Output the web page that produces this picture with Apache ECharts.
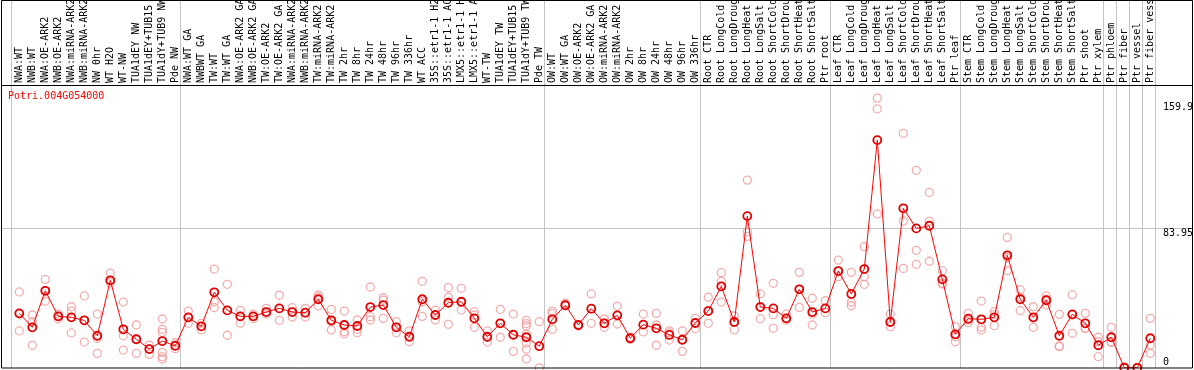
<!DOCTYPE html>
<html><head><meta charset="utf-8">
<script src="https://cdn.jsdelivr.net/npm/echarts@6/dist/echarts.min.js"></script>
<style>html,body{margin:0;padding:0;background:#fff}#c{width:1194px;height:370px}</style>
</head><body><div id="c"></div>
<script>
const geneName = 'Potri.004G054000';
const categories = [
 'NWA:WT','NWB:WT','NWA:OE-ARK2','NWB:OE-ARK2','NWA:miRNA-ARK2','NWB:miRNA-ARK2','NW 0hr','WT H2O','WT-NW','TUA1dEY NW','TUA1dEY+TUB15 NW','TUA1dY+TUB9 NW','Pde NW',
 'NWA:WT GA','NWBWT GA','TW:WT','TW:WT GA','NWA:OE-ARK2 GA','NWB:OE-ARK2 GA','TW:OE-ARK2','TW:OE-ARK2 GA','NWA:miRNA-ARK2 GA','NWB:miRNA-ARK2 GA','TW:miRNA-ARK2','TW:miRNA-ARK2 GA','TW 2hr','TW 8hr','TW 24hr','TW 48hr','TW 96hr','TW 336hr','WT ACC','35S::etr1-1 H2O','35S::etr1-1 ACC','LMX5::etr1-1 H2O','LMX5::etr1-1 ACC','WT-TW','TUA1dEY TW','TUA1dEY+TUB15 TW','TUA1dY+TUB9 TW','Pde TW',
 'OW:WT','OW:WT GA','OW:OE-ARK2','OW:OE-ARK2 GA','OW:miRNA-ARK2','OW:miRNA-ARK2 GA','OW 2hr','OW 8hr','OW 24hr','OW 48hr','OW 96hr','OW 336hr',
 'Root CTR','Root LongCold','Root LongDrought','Root LongHeat','Root LongSalt','Root ShortCold','Root ShortDrought','Root ShortHeat','Root ShortSalt','Ptr root',
 'Leaf CTR','Leaf LongCold','Leaf LongDrought','Leaf LongHeat','Leaf LongSalt','Leaf ShortCold','Leaf ShortDrought','Leaf ShortHeat','Leaf ShortSalt','Ptr leaf',
 'Stem CTR','Stem LongCold','Stem LongDrought','Stem LongHeat','Stem LongSalt','Stem ShortCold','Stem ShortDrought','Stem ShortHeat','Stem ShortSalt','Ptr shoot','Ptr xylem',
 'Ptr phloem','Ptr fiber','Ptr vessel','Ptr fiber vessel'
];
const meanValues = [
 32.8,24.4,46.4,31.0,30.4,28.6,19.3,52.7,23.2,17.2,11.3,16.1,13.3,
 30.4,25.0,45.5,34.6,31.0,31.0,33.6,35.8,33.6,33.2,41.3,28.6,25.8,25.2,36.6,37.8,24.4,18.7,41.3,31.8,39.2,39.8,29.8,18.7,26.8,19.9,18.4,13.0,
 29.2,37.7,25.8,35.6,26.8,31.6,17.8,26.0,23.8,19.8,16.9,27.0,
 34.2,49.1,27.6,91.4,36.6,35.8,29.8,47.3,33.6,35.8,
 58.3,44.5,59.5,137.2,27.6,96.1,84.0,85.6,53.3,20.2,
 29.6,29.2,30.4,67.8,41.3,30.4,40.7,19.3,32.2,26.8,13.6,
 18.4,0,0,17.8
];
const replicateValues = [
 [45.7,32.4,22.2],[31.8,27.8,13.6],[53.3,46.4,40.1],[32.4,31.0,29.4],[36.8,34.2,21.0],[43.3,28.6,15.5],[32.4,17.8,8.7],[57.1,52.7,51.3],[39.6,19.3,10.7],[25.8,17.2,8.7],[13.7,11.3,8.1],[29.4,23.2,21.4,9.3,6.7,5.3],[15.1,13.3,11.5],
 [34.2,30.4,26.8],[26.8,25.0,22.8],[59.5,39.8,36.2],[50.3,34.6,19.6],[34.6,31.0,26.8],[32.4,31.0,29.6],[35.8,33.6,32.4],[43.7,35.8,28.6],[36.2,33.6,30.6],[35.8,33.2,30.6],[43.9,42.8,37.3],[35.2,27.8,22.8],[34.2,21.7,20.4],[28.8,23.2,21.1],[48.7,30.8,28.8],[42.2,40.8,29.8],[27.8,24.4,21.1],[22.3,18.7,15.7],[52.1,39.8,31.0],[34.8,31.8,28.8],[48.3,42.5,26.2],[47.9,39.8,34.8],[33.8,31.8,24.4],[22.2,18.4,15.5],[35.2,26.8,18.4],[32.4,19.9,9.9],[28.6,26.6,25.2,20.2,14.8,11.3,5.3],[27.8,13.0,0],
 [34.2,32.8,23.2],[38.9,37.7,37.4],[26.2,25.8,25.2],[44.5,35.6,26.8],[29.4,26.8,24.4],[37.2,31.6,26.4],[18.5,17.8,17.1],[32.4,26.0,21.6],[32.8,25.8,13.6],[22.3,21.1,16.7],[22.3,16.9,9.9],[29.8,27.0,23.6],
 [42.5,34.4,26.8],[57.3,52.1,39.6],[31.2,27.6,22.8],[113.1,81.9,79.2],[44.5,36.8,29.6],[50.9,32.0,23.8],[32.4,29.8,28.6],[57.5,47.3,36.4],[41.9,32.4,25.8],[40.4,35.8,33.2],
 [64.9,58.3,54.9],[57.5,39.5,37.4],[73.0,54.9,50.3],[162.5,156.0,92.7],[32.4,27.6,24.8],[141.3,88.4,59.9],[119.0,70.8,62.3],[105.7,88.4,64.2],[58.5,50.9,50.5],[24.8,18.7,15.7],
 [32.8,28.8,27.2],[40.2,24.4,22.8],[33.8,32.0,25.4],[78.6,66.3,58.5],[46.9,42.6,34.4],[36.8,30.0,24.4],[43.3,41.0,37.8],[32.2,13.2,12.7],[43.9,31.9,20.8],[32.8,23.8,23.8],[18.4,15.7,6.7],
 [24.4,15.4,15.4],[0.7,0,0],[0,0,0],[29.8,13.7,8.7]
];
const groupEnds = [-1, 12, 40, 52, 62, 72, 83, 84, 85, 86, 87];
const gridLineValues = [83.95];
const yTickValues = [159.9, 83.95, 0];
const yTickLabels = ['159.9', '83.95', '0'];

const FONT = 'DejaVu Sans Mono';
const chart = echarts.init(document.getElementById('c'), null, {renderer: 'canvas'});
const repData = [];
replicateValues.forEach((arr, i) => arr.forEach(v => repData.push([i, v])));

chart.setOption({
  animation: false,
  backgroundColor: '#fff',
  title: {
    text: geneName, left: 8, top: 91, padding: 0,
    textStyle: {color: '#ff0000', fontFamily: FONT, fontSize: 10, fontWeight: 'normal'}
  },
  grid: {left: 12.8, right: 37.2, top: 85, bottom: 2.2, containLabel: false, outerBoundsMode: 'none'},
  xAxis: [
    {type: 'category', data: categories, position: 'top', boundaryGap: true,
     axisLine: {show: false}, axisTick: {show: false}, splitLine: {show: false},
     axisLabel: {interval: 0, rotate: 90, margin: 2, color: '#000', fontFamily: FONT, fontSize: 10, hideOverlap: false}},
    {type: 'value', min: -0.5, max: categories.length - 0.5, show: false}
  ],
  yAxis: {type: 'value', min: 0, max: 170.4, show: false},
  series: [
    {type: 'custom', xAxisIndex: 1, yAxisIndex: 0, silent: true, z: 1,
     data: groupEnds.map(k => [k + 0.38]),
     renderItem: (params, api) => {
       const x = Math.round(api.coord([api.value(0), 0])[0]) + 0.5;
       return {type: 'line', shape: {x1: x, y1: 0, x2: x, y2: 368}, style: {stroke: '#c4c4c4', lineWidth: 1}};
     }},
    {type: 'custom', xAxisIndex: 1, yAxisIndex: 0, silent: true, z: 1,
     data: gridLineValues.map(v => [0, v]),
     renderItem: (params, api) => {
       const y = Math.round(api.coord([0, api.value(1)])[1]) + 0.5;
       return {type: 'line', shape: {x1: 1, y1: y, x2: 1193, y2: y}, style: {stroke: '#c4c4c4', lineWidth: 1}};
     }},
    {type: 'custom', xAxisIndex: 1, yAxisIndex: 0, silent: true, z: 5,
     data: yTickValues.map((v, i) => [i, v]),
     renderItem: (params, api) => {
       const v = api.value(1);
       const y = api.coord([0, v])[1];
       const isMin = v === 0;
       return {type: 'text', x: 1163, y: isMin ? 367 : y - 0.5,
         style: {text: yTickLabels[params.dataIndex], fill: '#000', font: '10px ' + FONT,
                 textAlign: 'left', textVerticalAlign: isMin ? 'bottom' : 'top'}};
     }},
    {type: 'scatter', xAxisIndex: 0, yAxisIndex: 0, data: repData, z: 2, silent: true,
     symbol: 'circle', symbolSize: 8,
     itemStyle: {color: 'rgba(0,0,0,0)', borderColor: '#f09a9a', borderWidth: 1.3}},
    {type: 'line', xAxisIndex: 0, yAxisIndex: 0, data: meanValues, z: 3, silent: true,
     symbol: 'circle', symbolSize: 8, showAllSymbol: true,
     lineStyle: {color: '#ff0000', width: 1},
     itemStyle: {color: 'rgba(0,0,0,0)', borderColor: '#e00000', borderWidth: 1.8}}
  ],
  graphic: [
    {type: 'rect', z: 10, silent: true, shape: {x: 1.5, y: 0.5, width: 1191, height: 367.5},
     style: {fill: 'none', stroke: '#000', lineWidth: 1}},
    {type: 'line', z: 10, silent: true, shape: {x1: 1, y1: 85.5, x2: 1193, y2: 85.5},
     style: {stroke: '#000', lineWidth: 1}}
  ]
});
</script></body></html>
